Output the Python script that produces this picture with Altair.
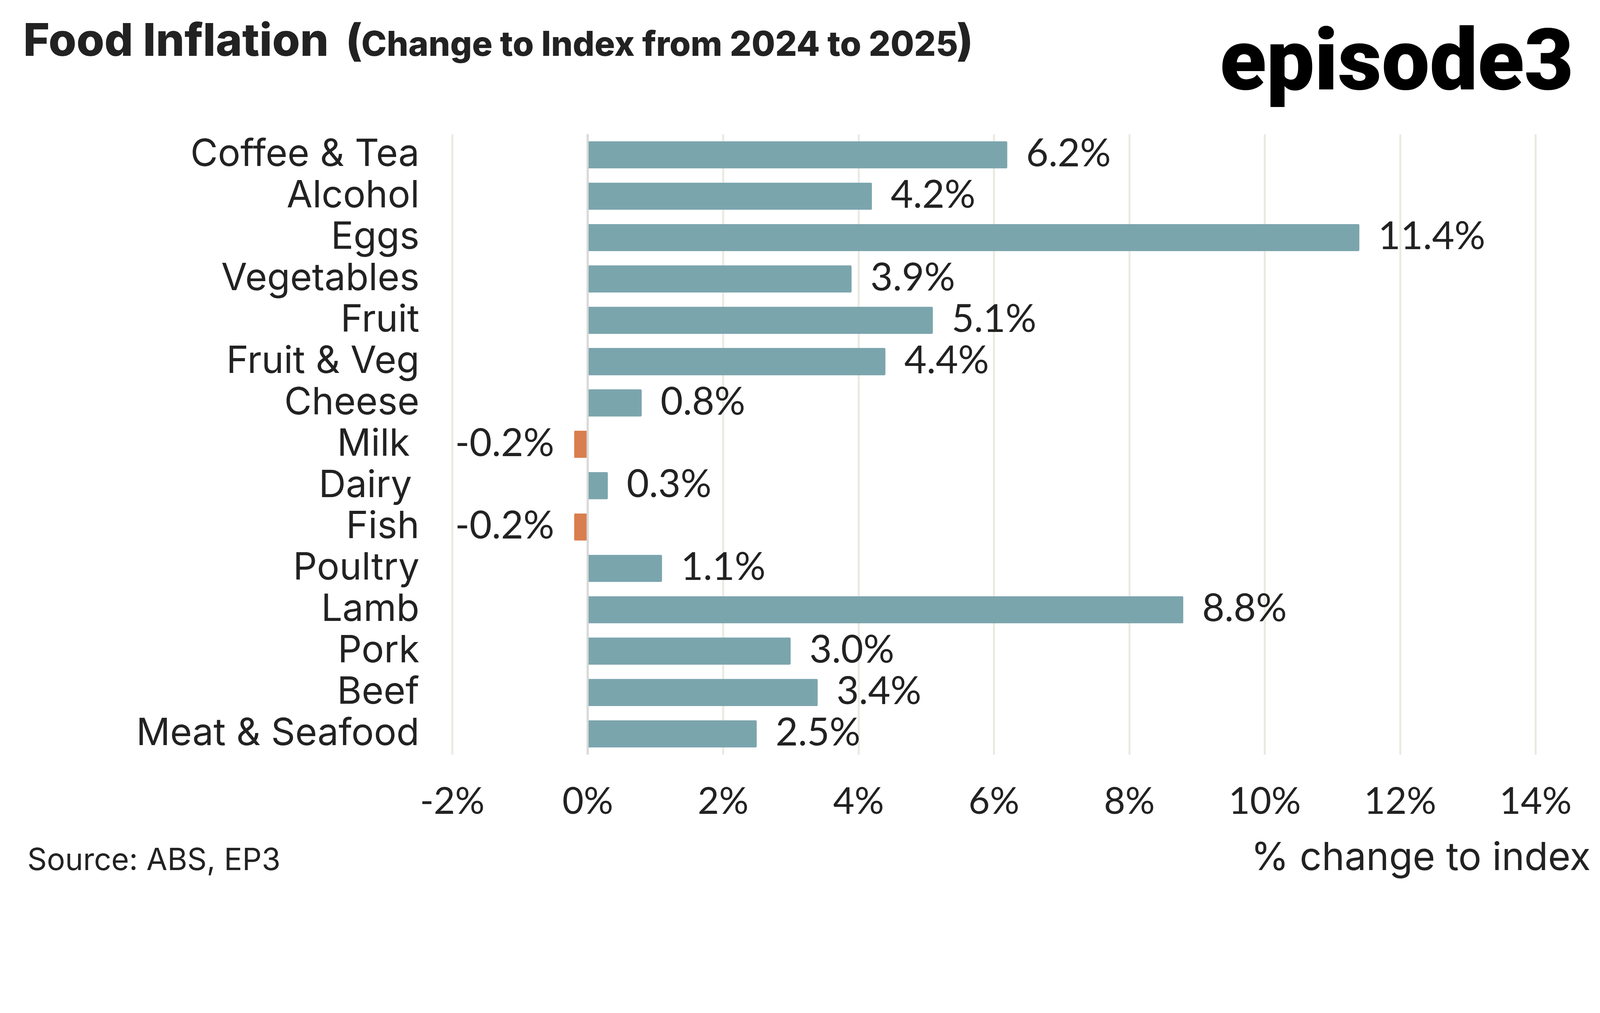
import altair as alt
import pandas as pd

categories = ["Coffee & Tea", "Alcohol", "Eggs", "Vegetables", "Fruit", "Fruit & Veg",
              "Cheese", "Milk", "Dairy", "Fish", "Poultry", "Lamb", "Pork",
              "Beef", "Meat & Seafood"]
values = [6.2, 4.2, 11.4, 3.9, 5.1, 4.4, 0.8, -0.2, 0.3, -0.2, 1.1, 8.8, 3.0, 3.4, 2.5]
label_shift = [0, 0, 0, 0, 0, 0, 0, 28, 22, 0, 0, 0, 0, 0, 0]
x_ticks = [-2, 0, 2, 4, 6, 8, 10, 12, 14]

FONT = "Lato"
FONT2 = "Inter"
TXT = "#222222"

df = pd.DataFrame({"category": categories, "value": values, "shift": label_shift})
df["sign"] = ["neg" if v < 0 else "pos" for v in values]
df["label"] = [f"{v:.1f}%" for v in values]

y_enc = alt.Y("category:N", sort=None, title=None,
              scale=alt.Scale(paddingInner=0.34, paddingOuter=0.17), axis=None)
x_enc = alt.X("value:Q", title=None,
              scale=alt.Scale(domain=[-2, 14], nice=False, zero=False),
              axis=alt.Axis(values=x_ticks, domain=False, ticks=False, grid=True,
                            gridColor="#EAEAE2", gridWidth=6, labelFont=FONT,
                            labelFontSize=108, labelColor=TXT, labelPadding=88,
                            labelLimit=2000, labelFlush=False, labelOverlap=False,
                            labelExpr="(datum.value < 0 ? '-' : '') + abs(datum.value) + '%'"))

base = alt.Chart(df)

bars = base.mark_bar(cornerRadius=4).encode(
    x=x_enc, y=y_enc,
    color=alt.Color("sign:N", scale=alt.Scale(domain=["pos", "neg"], range=["#7BA5AD", "#D97E4F"]), legend=None),
)

zero = alt.Chart(pd.DataFrame({"z": [0]})).mark_rule(color="#D9D9D9", strokeWidth=6).encode(
    x="z:Q"
)

cat_lab = base.transform_calculate(xpos="-96 - datum.shift").mark_text(
    align="right", baseline="middle", font=FONT2, fontSize=110, color=TXT
).encode(x=alt.X("xpos:Q", scale=None), y=alt.Y("category:N", sort=None), text="category:N")

pos_lab = base.transform_filter("datum.value >= 0").mark_text(
    align="left", baseline="middle", dx=55, font=FONT, fontSize=113, color=TXT
).encode(x="value:Q", y=alt.Y("category:N", sort=None), text="label:N")

neg_lab = base.transform_filter("datum.value < 0").mark_text(
    align="right", baseline="middle", dx=-58, font=FONT, fontSize=113, color=TXT
).encode(x="value:Q", y=alt.Y("category:N", sort=None), text="label:N")

one = pd.DataFrame({"a": [1]})

def note(text, x, y, size, weight="normal", align="left", color=TXT, font=FONT2):
    return alt.Chart(one).mark_text(
        align=align, baseline="alphabetic", font=font, fontSize=size,
        fontWeight=weight, color=color
    ).encode(x=alt.value(x), y=alt.value(y), text=alt.value(text))

title1 = note("Food Inflation", -1256, -229, 132, weight=800)
title_open = note("(", -312, -229, 128, weight=800)
title2 = note("Change to Index from 2024 to 2025", -266, -229, 100, weight=800)
title3 = note(")", 1477, -229, 128, weight=800)
logo = note("episode3", 2248, -131, 250, weight=900, color="#000000", font="Roboto")
xtitle = note("% change to index", 3334, 2155, 113, align="right")
source = note("Source: ABS, EP3", -1244, 2156, 89)

chart = alt.layer(bars, zero, cat_lab, pos_lab, neg_lab, title1, title_open, title2, title3,
                  logo, xtitle, source).properties(
    width=3172, height=1817,
    autosize=alt.AutoSizeParams(type="none"),
    padding={"left": 1315, "top": 211, "right": 180, "bottom": 375},
    background="white",
).configure_view(stroke=None)

chart.save("out.html", embed_options={"renderer": "svg", "actions": False})
